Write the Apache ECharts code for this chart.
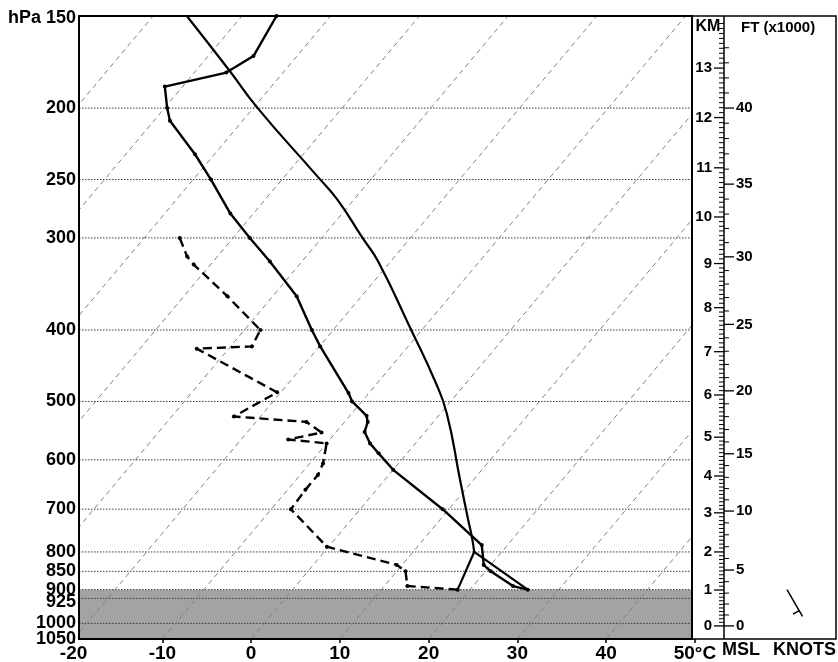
<!DOCTYPE html>
<html><head><meta charset="utf-8">
<script src="https://cdn.jsdelivr.net/npm/echarts@6/dist/echarts.min.js"></script>
<style>html,body{margin:0;padding:0;background:#fff}#c{width:838px;height:662px}</style>
</head><body><div id="c"></div>
<script>
// ---------- data ----------
const PRESSURE_LABELS = [150, 200, 250, 300, 400, 500, 600, 700, 800, 850, 900, 925, 1000, 1050];
const ISOBARS = [200, 250, 300, 400, 500, 600, 700, 800, 850, 900, 925, 1000];
const ISOTHERMS = [-70, -60, -50, -40, -30, -20, -10, 0, 10, 20, 30, 40];
const SURFACE_P = 900;

const TEMP_P = [900, 890, 850, 833, 783, 700, 619, 588, 570, 550, 533, 523, 500, 487, 421, 400, 360, 323, 300, 278, 250, 231, 208, 200, 187, 179, 170, 150];
const TEMP_T = [26.5, 24.5, 20.6, 19.2, 17.1, 9.3, 0.0, -3.2, -5.1, -6.8, -7.4, -8.1, -11.1, -12.3, -19.9, -22.4, -27.3, -33.6, -38.1, -42.6, -48.0, -52.2, -58.2, -59.7, -62.0, -56.4, -54.9, -56.1];

const DEW_P = [900, 890, 850, 833, 787, 700, 659, 629, 607, 570, 563, 551, 533, 524, 486, 424, 421, 400, 360, 326, 318, 300];
const DEW_T = [18.6, 12.6, 11.0, 9.4, -0.2, -7.8, -8.0, -8.0, -8.5, -10.0, -14.7, -11.6, -14.3, -23.0, -20.4, -33.6, -27.6, -28.2, -35.1, -41.9, -43.4, -46.0];

const DRY_P = [900, 800];
const DRY_T = [26.5, 16.9];
const MIX_P = [900, 800];
const MIX_T = [18.6, 16.9];
const MOIST_P = [800, 763, 724, 639, 519, 468, 400, 323, 300, 266, 246, 200, 178, 150];
const MOIST_T = [16.9, 15.2, 13.2, 8.5, 0.7, -3.8, -11.2, -21.4, -25.4, -31.9, -36.7, -49.5, -56.2, -66.2];

const KM_LEVELS = [0, 1, 2, 3, 4, 5, 6, 7, 8, 9, 10, 11, 12, 13];
const KM_P = [1008, 901, 800, 708, 631, 559, 490, 428, 373, 325, 281, 241, 206, 176.5];
const FT_LABELS = [0, 5, 10, 15, 20, 25, 30, 35, 40];

const WIND_P = [900];
const WIND_DIR = [150];
const WIND_KT = [5];

// ---------- skew-T geometry ----------
const SKEW = 30.3;          // degC per ln(p) unit
const P_REF = 1050;
const P_TOP = 150;
const X_MIN = -19.39, X_MAX = 49.68;
const LN_TOP = Math.log(P_TOP), LN_BOT = Math.log(P_REF);
const FONT = '"Liberation Sans", Arial, Helvetica, sans-serif';

function skewX(t, p) { return t + SKEW * Math.log(P_REF / p); }
function toPts(ps, ts) { return ps.map((p, i) => [skewX(ts[i], p), Math.log(p)]); }
function kmToLnP(h) {
  const n = KM_LEVELS.length;
  let i = Math.floor(h);
  if (i < 0) i = 0;
  if (i > n - 2) i = n - 2;
  const a = Math.log(KM_P[i]), b = Math.log(KM_P[i + 1]);
  return a + (b - a) * (h - KM_LEVELS[i]);
}

function txt(x, y, text, size, align, valign) {
  return { type: 'text', x: x, y: y, style: { text: text, fill: '#000', fontSize: size, fontWeight: 'bold', fontFamily: FONT,
    align: align, verticalAlign: valign, textAlign: align, textVerticalAlign: valign } };
}
function seg(x1, y1, x2, y2, w, dash, color) {
  const s = { stroke: color || '#000', lineWidth: w };
  if (dash) s.lineDash = dash;
  return { type: 'line', shape: { x1: x1, y1: y1, x2: x2, y2: y2 }, style: s };
}

function renderShade(params, api) {
  const cs = params.coordSys;
  const y = api.coord([0, api.value(1)])[1];
  return { type: 'rect', shape: { x: cs.x, y: y, width: cs.width, height: cs.y + cs.height - y }, style: { fill: '#a3a3a3' } };
}
function renderIsobar(params, api) {
  const cs = params.coordSys;
  const p = api.value(2);
  const y = api.coord([0, api.value(1)])[1];
  const ch = [];
  if (ISOBARS.indexOf(p) >= 0) ch.push(seg(cs.x, y, cs.x + cs.width, y, 1, [1.5, 1.5], '#3a3a3a'));
  const dy = p === 925 ? 4 : (p === 150 ? 2 : 0);
  ch.push(txt(cs.x - 3, y + dy, p === P_TOP ? 'hPa 150' : String(p), 18, 'right', 'middle'));
  return { type: 'group', children: ch };
}
function renderKm(params, api) {
  const cs = params.coordSys;
  const ax = cs.x + 32;
  const km = api.value(2);
  const y = api.coord([0, api.value(1)])[1];
  const ch = [];
  if (params.dataIndex === 0) ch.push(seg(ax, cs.y, ax, cs.y + cs.height, 1.5));
  ch.push(seg(ax - 10, y, ax, y, 1.3));
  ch.push(txt(ax - 12, y, String(km), 15, 'right', 'middle'));
  for (let j = 1; j <= 9; j++) {
    const ln = kmToLnP(km + j / 10);
    if (ln < LN_TOP) continue;
    const yy = api.coord([0, ln])[1];
    ch.push(seg(ax - 5, yy, ax, yy, 1));
  }
  return { type: 'group', children: ch };
}
function renderFt(params, api) {
  const cs = params.coordSys;
  const ax = cs.x + 32;
  const ft = api.value(2);
  const y = api.coord([0, api.value(1)])[1];
  const ch = [seg(ax, y, ax + 10, y, 1.3), txt(ax + 12, y, String(ft), 15, 'left', 'middle')];
  for (let j = 1; j <= 4; j++) {
    const ln = kmToLnP((ft + j) * 0.3048);
    if (ln < LN_TOP) continue;
    const yy = api.coord([0, ln])[1];
    ch.push(seg(ax, yy, ax + 5, yy, 1));
  }
  return { type: 'group', children: ch };
}
function renderWind(params, api) {
  const cs = params.coordSys;
  const x0 = cs.x + 95;
  const y0 = api.coord([0, api.value(1)])[1];
  const dir = api.value(2) * Math.PI / 180, kt = api.value(3);
  const L = 31, ux = Math.sin(dir), uy = -Math.cos(dir);
  const px = -uy, py = ux;
  const ch = [seg(x0, y0, x0 + ux * L, y0 + uy * L, 1.5)];
  const n10 = Math.floor(kt / 10), n5 = Math.round((kt - n10 * 10) / 5);
  let t = 1;
  for (let i = 0; i < n10; i++) {
    const bx = x0 + ux * L * t, by = y0 + uy * L * t;
    ch.push(seg(bx, by, bx + px * 14 + ux * 4, by + py * 14 + uy * 4, 1.5));
    t -= 0.18;
  }
  if (n5) {
    if (n10 === 0) t = 0.78;
    const bx = x0 + ux * L * t, by = y0 + uy * L * t;
    ch.push(seg(bx, by, bx + px * 7, by + py * 7, 1.5));
  }
  return { type: 'group', children: ch };
}

const isothermSeries = ISOTHERMS.map(t => ({
  type: 'line', xAxisIndex: 0, yAxisIndex: 0, silent: true, z: 2, symbol: 'none', clip: true,
  data: [[skewX(t, P_REF), LN_BOT], [skewX(t, P_TOP), LN_TOP]],
  lineStyle: { color: '#808080', width: 1, type: [5, 4] }
}));

const chart = echarts.init(document.getElementById('c'), null, { renderer: 'canvas' });
chart.setOption({
  animation: false,
  backgroundColor: '#fff',
  grid: [
    { left: 79, right: 146, top: 16, bottom: 23, show: true, borderColor: '#000', borderWidth: 2, z: 10, outerBoundsMode: 'none', containLabel: false },
    { left: 73.6, right: 143.1, top: 16, bottom: 23, show: false, outerBoundsMode: 'none', containLabel: false },
    { left: 692, right: 2, top: 16, bottom: 23, show: true, borderColor: '#000', borderWidth: 1.5, z: 10, outerBoundsMode: 'none', containLabel: false }
  ],
  xAxis: [
    { gridIndex: 0, type: 'value', min: X_MIN, max: X_MAX, show: false },
    { gridIndex: 1, type: 'value', min: -20, max: 50, interval: 10,
      axisLine: { show: false }, splitLine: { show: false },
      axisTick: { show: true, length: 4, lineStyle: { color: '#000', width: 1.5 } },
      axisLabel: { show: true, margin: 5, fontSize: 19, fontWeight: 'bold', color: '#000', fontFamily: FONT,
        showMinLabel: true, showMaxLabel: true,
        formatter: v => (v === 50 ? '50°C' : String(v)) } },
    { gridIndex: 2, type: 'value', min: 0, max: 1, show: false }
  ],
  yAxis: [
    { gridIndex: 0, type: 'value', inverse: true, min: LN_TOP, max: LN_BOT, show: false },
    { gridIndex: 1, type: 'value', min: 0, max: 1, show: false },
    { gridIndex: 2, type: 'value', inverse: true, min: LN_TOP, max: LN_BOT, show: false }
  ],
  graphic: [
    { type: 'text', x: 708, y: 27, z: 20, style: { text: 'KM', fill: '#000', fontSize: 16, fontWeight: 'bold', fontFamily: FONT, align: 'center', verticalAlign: 'middle', textAlign: 'center', textVerticalAlign: 'middle' } },
    { type: 'text', x: 741, y: 28, z: 20, style: { text: 'FT (x1000)', fill: '#000', fontSize: 15, fontWeight: 'bold', fontFamily: FONT, align: 'left', verticalAlign: 'middle', textAlign: 'left', textVerticalAlign: 'middle' } },
    { type: 'text', x: 722, y: 650, z: 20, style: { text: 'MSL', fill: '#000', fontSize: 18, fontWeight: 'bold', fontFamily: FONT, align: 'left', verticalAlign: 'middle', textAlign: 'left', textVerticalAlign: 'middle' } },
    { type: 'text', x: 836, y: 650, z: 20, style: { text: 'KNOTS', fill: '#000', fontSize: 18, fontWeight: 'bold', fontFamily: FONT, align: 'right', verticalAlign: 'middle', textAlign: 'right', textVerticalAlign: 'middle' } }
  ],
  series: [
    { type: 'custom', xAxisIndex: 0, yAxisIndex: 0, z: 1, silent: true, renderItem: renderShade,
      data: [[0, Math.log(SURFACE_P)]] },
    { type: 'custom', xAxisIndex: 0, yAxisIndex: 0, z: 2, silent: true, renderItem: renderIsobar,
      data: PRESSURE_LABELS.map(p => [0, Math.log(p), p]) },
    ...isothermSeries,
    { type: 'line', name: 'dry', xAxisIndex: 0, yAxisIndex: 0, z: 4, silent: true, symbol: 'none',
      data: toPts(DRY_P, DRY_T), lineStyle: { color: '#000', width: 2.2 } },
    { type: 'line', name: 'mix', xAxisIndex: 0, yAxisIndex: 0, z: 4, silent: true, symbol: 'none',
      data: toPts(MIX_P, MIX_T), lineStyle: { color: '#000', width: 2.2 } },
    { type: 'line', name: 'moist', xAxisIndex: 0, yAxisIndex: 0, z: 4, silent: true, symbol: 'none', smooth: 0.5,
      data: toPts(MOIST_P, MOIST_T), lineStyle: { color: '#000', width: 2.2 } },
    { type: 'line', name: 'dewpoint', xAxisIndex: 0, yAxisIndex: 0, z: 5, silent: true,
      symbol: 'circle', symbolSize: 4, itemStyle: { color: '#000' },
      data: toPts(DEW_P, DEW_T), lineStyle: { color: '#000', width: 2.4, type: [9, 5] } },
    { type: 'line', name: 'temperature', xAxisIndex: 0, yAxisIndex: 0, z: 6, silent: true,
      symbol: 'circle', symbolSize: 4, itemStyle: { color: '#000' },
      data: toPts(TEMP_P, TEMP_T), lineStyle: { color: '#000', width: 2.4 } },
    { type: 'custom', xAxisIndex: 2, yAxisIndex: 2, z: 6, silent: true, renderItem: renderKm,
      data: KM_LEVELS.map((k, i) => [0, Math.log(KM_P[i]), k]) },
    { type: 'custom', xAxisIndex: 2, yAxisIndex: 2, z: 6, silent: true, renderItem: renderFt,
      data: FT_LABELS.map(f => [0, kmToLnP(f * 0.3048), f]) },
    { type: 'custom', xAxisIndex: 2, yAxisIndex: 2, z: 6, silent: true, renderItem: renderWind,
      data: WIND_P.map((p, i) => [0, Math.log(p), WIND_DIR[i], WIND_KT[i]]) }
  ]
});
</script></body></html>
